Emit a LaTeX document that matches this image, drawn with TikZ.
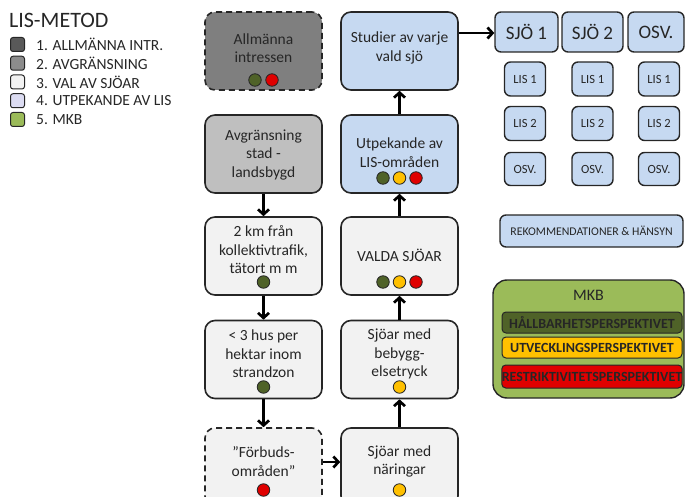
\documentclass[tikz,border=0pt]{standalone}
\usepackage{fontspec}
\setmainfont{Carlito}
\usetikzlibrary{arrows.meta}
\definecolor{edge}{HTML}{262626}
\definecolor{dgray}{HTML}{7F7F7F}
\definecolor{mgray}{HTML}{BFBFBF}
\definecolor{wbox}{HTML}{F2F2F2}
\definecolor{bbox}{HTML}{C6D9F1}
\definecolor{mkbg}{HTML}{9BBB59}
\definecolor{cgreen}{HTML}{4F6228}
\definecolor{cyellow}{HTML}{FFC000}
\definecolor{cred}{HTML}{E00000}
\definecolor{lg1}{HTML}{595959}
\definecolor{lg2}{HTML}{8C8C8C}
\definecolor{lg4}{HTML}{DCDCF2}
\tikzset{
  bigbox/.style={draw=edge, line width=1.6pt, rounded corners=10pt, minimum width=117pt, minimum height=78pt, inner sep=0pt},
  dashbox/.style={bigbox, dash pattern=on 6pt off 4pt},
  txt/.style={align=center, inner sep=0pt, text=edge, font=\fontsize{15.5}{18.5}\selectfont},
  dot/.style={circle, draw=edge, line width=0.8pt, minimum size=12.5pt, inner sep=0pt},
  arr/.style={line width=2.7pt, draw=black, -{Straight Barb[length=5pt,width=11pt]}},
  sbox/.style={draw=edge, line width=1.4pt, fill=bbox, rounded corners=6pt, inner sep=0pt, text=edge},
  bar/.style={draw=edge, line width=1pt, rounded corners=4pt, minimum width=180pt, inner sep=0pt, font=\fontsize{14}{16}\bfseries, text=black!85},
  legsq/.style={draw=edge, line width=1pt, rounded corners=2.5pt, minimum size=14pt, inner sep=0pt},
  legtxt/.style={anchor=west, inner sep=0pt, text=edge, font=\fontsize{15.5}{17}\selectfont}
}
\begin{document}
\begin{tikzpicture}[x=1pt, y=-1pt]
\useasboundingbox (0,0) rectangle (685,497);
\clip (0,0) rectangle (685,497);

% legend
\node[anchor=west, inner sep=0pt, text=edge, font=\fontsize{22}{25}\selectfont] (legtitle) at (9,20) {LIS-METOD};
\node[legsq, fill=lg1] (sq1) at (17.5,44.5) {};
\node[legsq, fill=lg2] (sq2) at (17.5,63.25) {};
\node[legsq, fill=wbox] (sq3) at (17.5,82) {};
\node[legsq, fill=lg4] (sq4) at (17.5,100.75) {};
\node[legsq, fill=mkbg] (sq5) at (17.5,119.5) {};
\node[legtxt] (lt1) at (36,44.5) {1. ALLMÄNNA INTR.};
\node[legtxt] (lt2) at (36,63.25) {2. AVGRÄNSNING};
\node[legtxt] (lt3) at (36,82) {3. VAL AV SJÖAR};
\node[legtxt] (lt4) at (36,100.75) {4. UTPEKANDE AV LIS};
\node[legtxt] (lt5) at (36,119.5) {5. MKB};

% left column
\node[dashbox, fill=dgray] (allm) at (263.5,51) {};
\node[txt] (allmT) at (263.5,48) {Allmänna\\intressen};
\node[dot, fill=cgreen] (allmG) at (255,80) {};
\node[dot, fill=cred] (allmR) at (272,80) {};

\node[bigbox, fill=mgray] (avgr) at (263.5,154) {};
\node[txt] (avgrT) at (263.5,155) {Avgränsning\\stad -\\landsbygd};

\node[bigbox, fill=wbox] (km) at (263.5,256) {};
\node[txt] (kmT) at (263.5,250) {2 km från\\kollektivtrafik,\\tätort m m};
\node[dot, fill=cgreen] (kmG) at (263.5,282) {};

\node[bigbox, fill=wbox] (hus) at (263.5,359.5) {};
\node[txt] (husT) at (263.5,354) {< 3 hus per\\hektar inom\\strandzon};
\node[dot, fill=cgreen] (husG) at (263.5,387) {};

\node[dashbox, fill=wbox] (forb) at (263.5,467) {};
\node[txt] (forbT) at (263.5,461.5) {”Förbuds-\\områden”};
\node[dot, fill=cred] (forbR) at (263.5,490) {};

% right column
\node[bigbox, fill=bbox] (stud) at (399.5,51) {};
\node[txt] (studT) at (399.5,48) {Studier av varje\\vald sjö};

\node[bigbox, fill=bbox] (utp) at (399.5,154) {};
\node[txt] (utpT) at (399.5,152.5) {Utpekande av\\LIS-områden};
\node[dot, fill=cgreen] (utpG) at (383,178) {};
\node[dot, fill=cyellow] (utpY) at (399.5,178) {};
\node[dot, fill=cred] (utpR) at (416,178) {};

\node[bigbox, fill=wbox] (vald) at (399.5,256) {};
\node[txt] (valdT) at (399.5,255) {VALDA SJÖAR};
\node[dot, fill=cgreen] (valdG) at (383,282) {};
\node[dot, fill=cyellow] (valdY) at (399.5,282) {};
\node[dot, fill=cred] (valdR) at (416,282) {};

\node[bigbox, fill=wbox] (beb) at (399.5,359.5) {};
\node[txt] (bebT) at (399.5,354) {Sjöar med\\bebygg-\\elsetryck};
\node[dot, fill=cyellow] (bebY) at (399.5,387) {};

\node[bigbox, fill=wbox] (nar) at (399.5,467) {};
\node[txt] (narT) at (399.5,461.5) {Sjöar med\\näringar};
\node[dot, fill=cyellow] (narY) at (399.5,490) {};

% arrows
\draw[arr] (avgr.south) -- (km.north);
\draw[arr] (km.south) -- (hus.north);
\draw[arr] (hus.south) -- (forb.north);
\draw[arr] (forb.east |- 0,462) -- (nar.west |- 0,462);
\draw[arr] (nar.north) -- (beb.south);
\draw[arr] (beb.north) -- (vald.south);
\draw[arr] (vald.north) -- (utp.south);
\draw[arr] (utp.north) -- (stud.south);

% right panel
\node[sbox, minimum width=63pt, minimum height=40pt, font=\fontsize{19}{22}\selectfont] (sjo1) at (526.5,32) {SJÖ 1};
\node[sbox, minimum width=61pt, minimum height=40pt, font=\fontsize{19}{22}\selectfont] (sjo2) at (592.5,32) {SJÖ 2};
\node[sbox, minimum width=56pt, minimum height=40pt, font=\fontsize{19}{22}\selectfont] (osv) at (656,32) {OSV.};
\draw[arr] (stud.east |- 0,33) -- (sjo1.west |- 0,33);

\foreach \c/\x in {a/525,b/592.5,c/659}{
  \node[sbox, minimum width=41pt, minimum height=34pt, font=\fontsize{12.5}{14}\selectfont] (lis1\c) at (\x,79) {LIS 1};
  \node[sbox, minimum width=41pt, minimum height=34pt, font=\fontsize{12.5}{14}\selectfont] (lis2\c) at (\x,123.5) {LIS 2};
  \node[sbox, minimum width=41pt, minimum height=33pt, font=\fontsize{12.5}{14}\selectfont] (osv\c) at (\x,169) {OSV.};
}
\node[sbox, minimum width=183pt, minimum height=32pt, font=\fontsize{11.8}{13}\selectfont] (rek) at (591.5,231) {REKOMMENDATIONER \& HÄNSYN};

% MKB
\node[draw=edge, line width=1.4pt, fill=mkbg, rounded corners=14pt, minimum width=191pt, minimum height=118pt, inner sep=0pt] (mkb) at (588.5,339) {};
\node[inner sep=0pt, text=edge, font=\fontsize{16}{18}\selectfont] (mkbT) at (588.5,295) {MKB};
\node[bar, fill=cgreen, minimum height=21pt] (b1) at (592,322.5) {HÅLLBARHETSPERSPEKTIVET};
\node[bar, fill=cyellow, minimum height=21pt] (b2) at (592,347.5) {UTVECKLINGSPERSPEKTIVET};
\node[bar, fill=cred, minimum height=23pt] (b3) at (592,376.5) {RESTRIKTIVITETSPERSPEKTIVET};
\end{tikzpicture}
\end{document}
